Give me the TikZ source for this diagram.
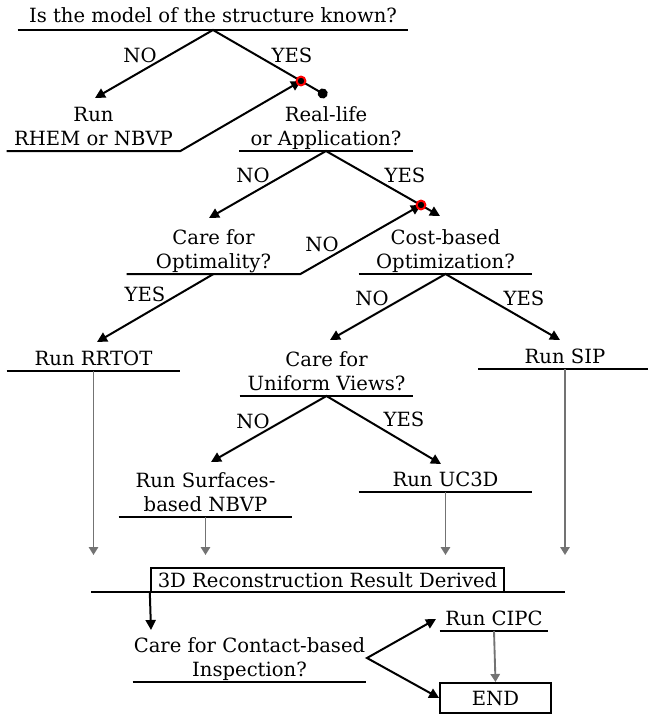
\documentclass[tikz,border=0pt]{standalone}
\usepackage{fontspec}
\setmainfont{DejaVu Serif}
\usetikzlibrary{arrows.meta}
\begin{document}
\begin{tikzpicture}[x=0.75pt, y=-0.75pt,
  txt/.style={font=\fontsize{14.7}{18}\selectfont, align=center},
  ul/.style={txt, anchor=south, inner xsep=0pt, inner ysep=1.2pt, text depth=3pt, minimum width=130pt},
  lbl/.style={txt, inner sep=0pt},
  rule/.style={line width=1.5pt},
  flow/.style={rule, -{Triangle[length=7.5pt, width=7.5pt]}},
  fork/.style={rule, {Triangle[length=7.5pt, width=7.5pt]}-{Triangle[length=7.5pt, width=7.5pt]}},
  done/.style={line width=1.4pt, black!55, -{Triangle[length=6pt, width=7pt]}},
  joint/.style={draw=red, line width=1.5pt, fill=black}]
\useasboundingbox (0,0) rectangle (647,714);
% questions and actions
\node [ul, minimum width=292.5pt, inner ysep=2.8pt] (known) at (213,30) {Is the model of the structure known?};
\node [ul] (rhem) at (93.5,151) {Run\\RHEM or NBVP};
\node [ul] (real) at (326,151) {Real-life\\or Application?};
\node [ul] (optim) at (213.5,274) {Care for\\Optimality?};
\node [ul] (cost) at (445.5,274) {Cost-based\\Optimization?};
\node [ul] (rrtot) at (93.5,371) {Run RRTOT};
\node [ul] (sip) at (565,369) {Run SIP};
\node [ul] (uniform) at (326.5,396) {Care for\\Uniform Views?};
\node [ul] (surf) at (205.5,517) {Run Surfaces-\\based NBVP};
\node [ul] (uc3d) at (445.5,492) {Run UC3D};
\node [txt, draw, line width=1.5pt, inner sep=0pt, minimum width=265pt, minimum height=18pt] (result) at (327.5,580) {3D Reconstruction Result Derived};
\node [ul, minimum width=175pt] (contact) at (249.5,682) {Care for Contact-based\\Inspection?};
\node [ul, minimum width=81pt] (cipc) at (494,631) {Run CIPC};
\node [txt, draw, line width=1.5pt, inner sep=0pt, minimum width=83pt, minimum height=22.5pt] (end) at (495.5,698) {END};
% answers
\node [lbl] (no1) at (140,55) {NO};
\node [lbl] (yes1) at (292,55) {YES};
\node [lbl] (no2) at (253,175) {NO};
\node [lbl] (yes2) at (405,175) {YES};
\node [lbl] (no3) at (322,244) {NO};
\node [lbl] (yes3) at (145,294) {YES};
\node [lbl] (no4) at (372,298) {NO};
\node [lbl] (yes4) at (524,298) {YES};
\node [lbl] (no5) at (253,421) {NO};
\node [lbl] (yes5) at (404,419) {YES};
% arrow ends
\coordinate (rhem-in) at (95,98);
\coordinate (real-in) at (327,96);
\coordinate (optim-in) at (209,218);
\coordinate (cost-in) at (440,216);
\coordinate (rrtot-in) at (97,342);
\coordinate (uniform-in) at (330,340);
\coordinate (sip-in) at (560,340);
\coordinate (surf-in) at (211,462);
\coordinate (uc3d-in) at (441,464);
\coordinate (j1) at (301,81);
\coordinate (j2) at (421,205);
\coordinate (merge) at (0,555);
\coordinate (contact-in) at (151,630);
\coordinate (split) at (367,658);
\coordinate (cipc-in) at (436,619);
% underlines
\draw [rule] (known.south west) -- (known.south east);
\draw [rule] (real.south west) -- (real.south east);
\draw [rule] (cost.south west) -- (cost.south east);
\draw [rule] (rrtot.south west) -- (rrtot.south east);
\draw [rule] (sip.south west) -- (sip.south east);
\draw [rule] (uniform.south west) -- (uniform.south east);
\draw [rule] (surf.south west) -- (surf.south east);
\draw [rule] (uc3d.south west) -- (uc3d.south east);
\draw [rule] (contact.south west) -- (contact.south east);
\draw [rule] (cipc.south west) -- (cipc.south east);
\draw [rule] (91,592) -- (565,592);
% decisions
\draw [rule, {Triangle[length=7.5pt, width=7.5pt]}-{Circle[length=7.5pt]}] (rhem-in) -- (known.south) -- (real-in);
\draw [flow] (rhem.south west) -- (rhem.south east) -- (j1);
\draw [fork] (optim-in) -- (real.south) -- (cost-in);
\draw [flow] (optim.south west) -- (optim.south east) -- (j2);
\draw [flow] (optim.south) -- (rrtot-in);
\draw [fork] (uniform-in) -- (cost.south) -- (sip-in);
\draw [fork] (surf-in) -- (uniform.south) -- (uc3d-in);
\draw [done] (rrtot.south) -- (rrtot.south |- merge);
\draw [done] (surf.south) -- (surf.south |- merge);
\draw [done] (uc3d.south) -- (uc3d.south |- merge);
\draw [done] (sip.south) -- (sip.south |- merge);
\draw [flow] (result.south west) -- (contact-in);
\draw [fork] (cipc-in) -- (split) -- (end.west);
\draw [done] (cipc.south) -- (end.north);
\draw [joint] (j1) circle [radius=3.3pt];
\draw [joint] (j2) circle [radius=3.3pt];
\end{tikzpicture}
\end{document}
